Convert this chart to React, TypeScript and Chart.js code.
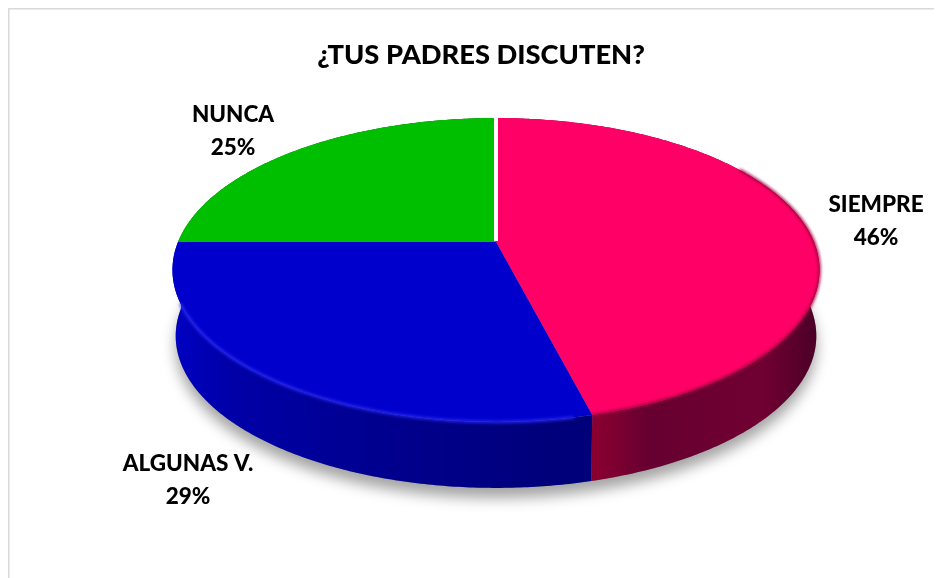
import React, { useEffect, useRef } from "react";
import { Chart, registerables } from "chart.js";

Chart.register(...registerables);

const categories = ["SIEMPRE", "ALGUNAS V.", "NUNCA"];
const percentages = [46, 29, 25];
const topColors = ["#FF0066", "#0000CC", "#00BF00"];
const titleText = "¿TUS PADRES DISCUTEN?";

// canvas coordinates = page coordinates - 8
const CX = 488, CY = 234, RX = 318, RY = 146.8, K = 0.184, DEPTH = 66, SHRINK = 0.01;
const labelCenters: [number, number][] = [[868, 213], [180, 472], [225, 123]];

function project(a: number, d: number): [number, number] {
  const u = Math.cos(a), v = Math.sin(a);
  const s = 1 - K * v;
  return [CX + (RX * u / s) * (1 - SHRINK * d), CY + (RY * v) / s + DEPTH * d];
}

function trace(ctx: CanvasRenderingContext2D, a1: number, a2: number, d: number, first: boolean) {
  const n = Math.max(2, Math.ceil(Math.abs(a2 - a1) / 0.01));
  for (let i = 0; i <= n; i++) {
    const [x, y] = project(a1 + ((a2 - a1) * i) / n, d);
    if (i === 0 && first) ctx.moveTo(x, y);
    else ctx.lineTo(x, y);
  }
}

function wallFill(ctx: CanvasRenderingContext2D, i: number) {
  const g = ctx.createLinearGradient(CX - RX, 0, CX + RX, 0);
  if (i === 0) {
    g.addColorStop(0, "#8a0033");
    g.addColorStop(0.65, "#8a0030");
    g.addColorStop(0.68, "#800030");
    g.addColorStop(0.74, "#660030");
    g.addColorStop(0.92, "#700032");
    g.addColorStop(1, "#4d0028");
  } else if (i === 1) {
    g.addColorStop(0, "#0000C0");
    g.addColorStop(0.08, "#0000A8");
    g.addColorStop(0.3, "#000090");
    g.addColorStop(0.6, "#00007A");
    g.addColorStop(1, "#00007A");
  } else {
    g.addColorStop(0, "#006000");
    g.addColorStop(1, "#006000");
  }
  return g;
}

const pie3d = {
  id: "pie3d",
  beforeDraw(chart: any) {
    const ctx: CanvasRenderingContext2D = chart.ctx;
    ctx.save();
    ctx.fillStyle = "#ffffff";
    ctx.fillRect(0, 0, chart.width, chart.height);
    ctx.fillStyle = "#D9D9D9";
    ctx.fillRect(0, 0, chart.width, 1.5);
    ctx.fillRect(0, 0, 1.5, chart.height);
    ctx.restore();
  },
  beforeDatasetDraw(chart: any, args: any) {
    const ctx: CanvasRenderingContext2D = chart.ctx;
    const arcs = chart.getDatasetMeta(args.index).data;
    ctx.save();

    // soft ground shadow
    ctx.save();
    ctx.shadowColor = "rgba(0,0,0,0.36)";
    ctx.shadowBlur = 14;
    ctx.shadowOffsetY = 10;
    ctx.fillStyle = "#888";
    ctx.beginPath();
    trace(ctx, 0, Math.PI * 2, 1, true);
    ctx.closePath();
    ctx.fill();
    ctx.restore();

    ctx.filter = "blur(0.6px)";

    // side walls
    arcs.forEach((arc: any, i: number) => {
      ctx.beginPath();
      trace(ctx, arc.startAngle, arc.endAngle, 0, true);
      trace(ctx, arc.endAngle, arc.startAngle, 1, false);
      ctx.closePath();
      ctx.fillStyle = wallFill(ctx, i);
      ctx.fill();
    });

    // top faces
    arcs.forEach((arc: any, i: number) => {
      ctx.beginPath();
      ctx.moveTo(CX, CY);
      trace(ctx, arc.startAngle, arc.endAngle, 0, false);
      ctx.closePath();
      ctx.fillStyle = topColors[i];
      ctx.fill();
    });

    // rim shading on the top faces
    ctx.filter = "blur(1.5px)";
    ctx.lineWidth = 2.5;
    arcs.forEach((arc: any, i: number) => {
      if (i === 2) return;
      ctx.beginPath();
      const from = i === 0 ? arc.startAngle + 1.0 : arc.startAngle + 0.05;
      const to = i === 0 ? arc.endAngle : arc.endAngle - 0.4;
      trace(ctx, from, to, 0, true);
      ctx.strokeStyle = i === 0 ? "#A0003F" : "#2A2AF5";
      ctx.stroke();
    });

    // gap between last and first slice
    ctx.filter = "none";
    const [tx, ty] = project(arcs[0].startAngle, 0);
    ctx.fillStyle = "#FFFFFF";
    ctx.fillRect(tx - 2, ty - 2, 4, CY - ty + 1);
    ctx.restore();
    return false;
  },
  afterDraw(chart: any) {
    const ctx: CanvasRenderingContext2D = chart.ctx;
    ctx.save();
    ctx.fillStyle = "#000000";
    ctx.font = "900 22.5px Lato";
    ctx.textAlign = "center";
    ctx.textBaseline = "middle";
    categories.forEach((name, i) => {
      const [x, y] = labelCenters[i];
      ctx.fillText(name, x, y - 16);
      ctx.fillText(`${percentages[i]}%`, x, y + 17);
    });
    ctx.restore();
  },
};

export default function App() {
  const ref = useRef<HTMLCanvasElement>(null);
  useEffect(() => {
    const chart = new Chart(ref.current!, {
      type: "pie",
      data: {
        labels: categories,
        datasets: [{ data: percentages, backgroundColor: topColors, borderWidth: 0 }],
      },
      options: {
        responsive: false,
        animation: false,
        layout: { padding: { left: 12 } },
        plugins: {
          legend: { display: false },
          tooltip: { enabled: false },
          title: {
            display: true,
            text: titleText,
            color: "#000000",
            fullSize: false,
            font: { family: "Lato", weight: "900", size: 27.3 },
            padding: { top: 31, bottom: 10 },
          },
        },
      },
      plugins: [pie3d],
    } as any);
    return () => chart.destroy();
  }, []);
  return <canvas ref={ref} width={934} height={570} style={{ display: "block" }} />;
}
